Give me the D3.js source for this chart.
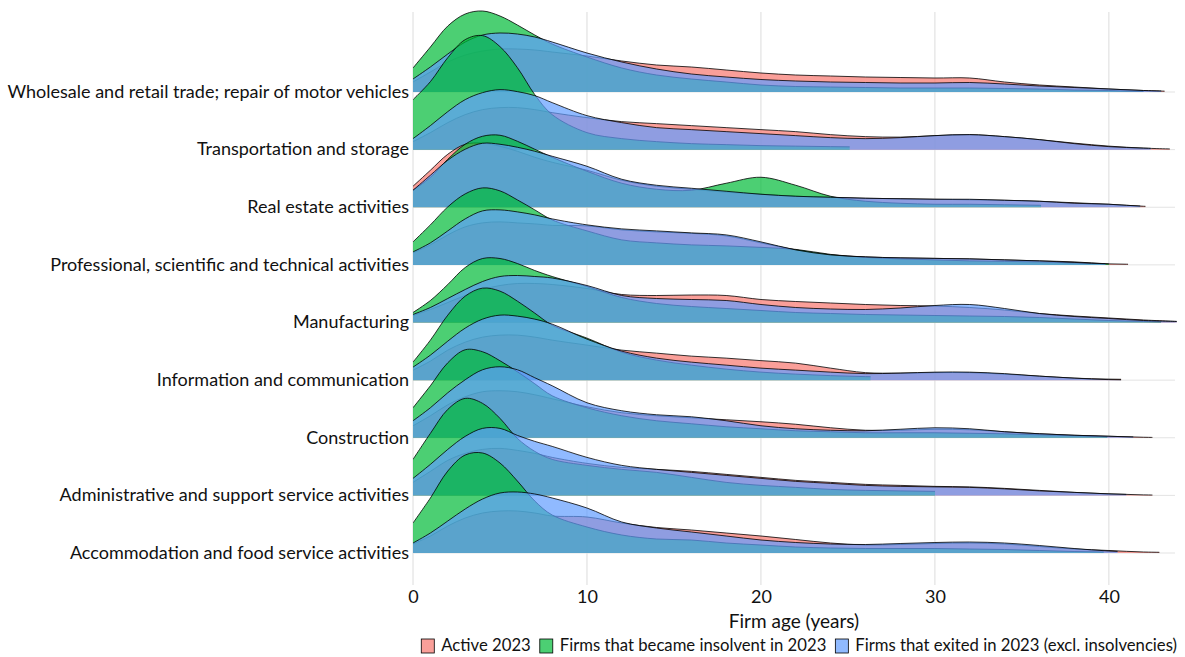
<!DOCTYPE html>
<meta charset="utf-8">
<style>
  body { margin: 0; background: #fff; }
  svg text { font-family: Lato, "Open Sans", sans-serif; fill: #111; }
</style>
<body>
<svg width="1185" height="657"></svg>
<script src="https://d3js.org/d3.v7.min.js"></script>
<script>
// sectors, top row first
var categories = [
  "Wholesale and retail trade; repair of motor vehicles",
  "Transportation and storage",
  "Real estate activities",
  "Professional, scientific and technical activities",
  "Manufacturing",
  "Information and communication",
  "Construction",
  "Administrative and support service activities",
  "Accommodation and food service activities"
];
var seriesNames = ["Active 2023", "Firms that became insolvent in 2023", "Firms that exited in 2023 (excl. insolvencies)"];
var xTicks = [0, 10, 20, 30, 40];

// firm age grid (years) for the density values below
var ages = [0,1,2,3,4,5,6,7,8,10,12,14,16,18,20,22,24,26,28,30,32,34,36,38,40,42,44];

// density (% of firms per year of age), one row per sector
var active = [
  [2,4,6,7.4,8.2,8.6,8.6,8.4,8,7.2,6.2,5.4,5,4.4,3.8,3.4,3.2,3,2.9,2.8,2.8,2,1.4,1,0.6,0.3,0.1],
  [1.6,3.4,5.4,7,8,8.4,8.4,8,7.4,6.4,5.6,5.2,4.8,4.4,4,3.6,3,2.6,2.5,2.8,3,2.6,2,1.3,0.7,0.3,0.1],
  [4.2,7.4,10.6,12.6,12.8,12.2,11.2,10,9,7.4,5.4,4.2,3.6,3,2.6,2.2,2,1.8,1.7,1.6,1.5,1.4,1.2,0.9,0.6,0.2,0.1],
  [2.4,4,6,7.6,8.4,8.6,8.4,8.2,7.9,7.8,7,6.6,6.3,5.8,4.4,3,2,1.6,1.4,1.3,1.2,1,0.8,0.6,0.2,0.1,0],
  [1.4,2.6,4,5.4,6.6,7.4,7.8,7.8,7.6,6.8,5.6,5.4,5.5,5.4,4.6,4.2,3.9,3.6,3.4,3.3,3,2.5,1.8,1.3,0.9,0.5,0.2],
  [2,3.8,6,7.6,8.6,9,9,8.6,8,7,6,5.4,4.8,4.4,3.9,3.4,2.4,1.5,1.4,1.5,1.5,1.2,0.8,0.4,0.2,0.1,0],
  [2.4,4.4,6.6,8.2,9.2,9.4,9.2,8.6,7.8,6.2,5,4.4,4,3.6,3.2,2.7,2,1.5,1.5,1.7,1.6,1.2,0.8,0.5,0.3,0.1,0],
  [2.6,4.8,7,8.4,9.2,9.4,9,8.4,7.6,6.4,5.6,5.2,4.8,4.2,3.6,3,2.6,2.2,2,1.8,1.7,1.4,1,0.6,0.3,0.1,0],
  [1.8,3.4,5.4,7,8,8.4,8.4,8,7.4,7.2,6,5.1,4.6,4,3.4,2.7,2,1.6,1.7,1.9,2,1.8,1.3,0.8,0.5,0.2,0.1]
];
var insolvent = [
  [4.8,9,13.2,15.6,16.2,15.2,13.4,11.4,9.6,7,4.8,3.4,2.6,2,1.4,1.1,1,0.9,0.8,0.8,0.8,0.7,0.6,0.4,0.3,0.1,0],
  [10,13.6,18.4,22,22.8,20.6,16.4,11,7,3.4,2.2,1.6,1.2,1,0.8,0.7,0.6,0.5,0.2,0.2,0.2,0.1,0.1,0.1,0.1,0,0],
  [3.4,6,9.6,12.6,14.2,14.4,13.2,11.6,10,7.2,4.8,3.6,3.4,4.8,6,4.4,2.2,1.2,0.8,0.6,0.6,0.5,0.4,0.3,0.2,0.1,0],
  [4.6,8,11.6,14.2,15.4,14.8,13,11,9,6.8,5,4.4,4,3.8,3.5,3.1,2.1,1.5,1.2,1,0.8,0.7,0.6,0.4,0.2,0.1,0],
  [2,4.4,7.6,11,12.8,12.8,11.8,10.4,9.2,7.2,5,3.8,3.2,2.8,2.4,2,1.8,1.6,1.5,1.4,1.3,1.2,1,0.7,0.4,0.2,0.1],
  [3.6,8,13,16.8,18.4,17.8,15.8,13.4,11,8.4,5.6,4,3,2.2,1.6,1.2,0.9,0.7,0.6,0.5,0.4,0.3,0.2,0.1,0.1,0,0],
  [6,10.4,15,17.6,17.2,15.4,13.2,10.8,8.4,6,4.4,3.4,2.8,2.2,1.8,1.4,1.2,1,1,1,0.9,0.8,0.6,0.4,0.2,0.1,0],
  [7.2,12.4,17.2,19.4,18.4,15.4,11.4,8.8,7.2,6,5.2,4.6,3.6,2.6,2,1.6,1.2,1,0.9,0.8,0.6,0.4,0.2,0.1,0,0,0],
  [6,11,16.4,19.6,20,18,14.4,10.4,7.6,5.2,3.6,2.8,2.6,2,1.6,1.2,1,0.9,0.9,0.9,0.8,0.7,0.5,0.3,0.2,0.1,0]
];
var exited = [
  [2.6,5,7.6,10,11.4,11.8,11.6,11,10,7.8,6,4.6,3.6,3,2.5,2.2,2,1.9,1.8,1.8,1.9,1.6,1.2,0.9,0.6,0.3,0.1],
  [2.2,4.8,7.6,10,11.4,12,11.6,10.8,9.4,6.8,5.4,4.4,4,3.6,3.2,2.8,2.4,2.2,2.4,2.8,3,2.6,2,1.2,0.6,0.3,0.1],
  [3.4,6.4,9.4,11.6,12.8,12.6,12,11.2,10.2,8.2,5.6,4.4,3.8,3.2,2.6,2.2,2,1.8,1.7,1.6,1.6,1.4,1.2,0.8,0.6,0.2,0.1],
  [2.6,4.4,6.8,9.2,10.8,11,10.6,10,9.2,8,7.2,6.8,6.4,6,4.6,3,2,1.6,1.4,1.3,1.2,1,0.8,0.5,0.2,0.1,0],
  [1.6,3,4.8,6.6,8.2,9.2,9.4,9.2,8.9,7.4,5.4,4.8,4.6,4.4,3.6,3,2.7,2.6,2.9,3.4,3.6,2.8,1.8,1.2,0.8,0.4,0.2],
  [2.6,5,7.8,10.4,12.2,13,12.8,12.2,11.2,8.2,5.8,4.4,3.6,3,2.4,2,1.6,1.3,1.4,1.6,1.6,1.3,0.8,0.4,0.1,0,0],
  [3.4,6,9,11.6,13.6,14.2,13.6,12,10.4,7,5.4,4.6,4.2,3.4,2.4,1.8,1.5,1.4,1.7,2,1.8,1.2,0.8,0.5,0.3,0.1,0],
  [3.4,6.2,9.2,11.8,13.4,13.4,12,10.8,9.8,7.6,6,5.2,4.6,4,3.4,2.8,2.4,2,1.8,1.7,1.6,1.3,0.9,0.6,0.3,0.1,0],
  [2,4,6.4,8.8,10.8,12,12.2,11.8,11,9,6.2,5,4.2,3.4,2.6,2.1,1.8,1.7,1.9,2.1,2.2,2,1.5,0.9,0.4,0.1,0]
];
// oldest firm age in each group (density drawn up to here)
var activeEnd    = [43.2, 43.5, 42.1, 41.1, 43.9, 40.7, 42.5, 42.5, 42.9];
var insolventEnd = [42.0, 25.1, 36.1, 40.0, 43.0, 26.3, 39.9, 30.0, 39.7];
var exitedEnd    = [43.0, 42.4, 41.8, 39.8, 43.9, 40.7, 41.4, 41.0, 40.5];

var colors = ["#F8766D", "#00BA38", "#619CFF"];
var seriesData = [active, insolvent, exited];
var seriesEnd = [activeEnd, insolventEnd, exitedEnd];

var svg = d3.select("svg"),
    margin = {top: 12, left: 413},
    width = 762,
    height = 573,
    g = svg.append("g").attr("transform", "translate(" + margin.left + "," + margin.top + ")");

var x = d3.scaleLinear().domain([0, 43.8]).range([0, width]);
var row = d3.scalePoint().domain(categories).range([80, 541]);
var dens = d3.scaleLinear().domain([0, 10]).range([0, 50]);

// grid
g.selectAll(".vgrid").data(xTicks).enter().append("line")
    .attr("x1", function(d) { return x(d); }).attr("x2", function(d) { return x(d); })
    .attr("y1", 0).attr("y2", height)
    .attr("stroke", "#dcdcdc").attr("stroke-width", 1);
g.selectAll(".hgrid").data(categories).enter().append("line")
    .attr("x1", 0).attr("x2", width)
    .attr("y1", function(d) { return row(d); }).attr("y2", function(d) { return row(d); })
    .attr("stroke", "#e3e3e3").attr("stroke-width", 1);

var defs = svg.append("defs");

categories.forEach(function(cat, i) {
  var base = row(cat);
  seriesData.forEach(function(data, s) {
    var pts = ages.map(function(a, k) { return [a, data[i][k]]; });
    var id = "clip-" + i + "-" + s;
    defs.append("clipPath").attr("id", id)
      .append("rect")
        .attr("x", 0).attr("y", -margin.top)
        .attr("width", Math.min(x(seriesEnd[s][i]), width + 2))
        .attr("height", base + margin.top + 0.5);
    var area = d3.area()
        .curve(d3.curveCatmullRom)
        .x(function(d) { return x(d[0]); })
        .y0(base)
        .y1(function(d) { return base - dens(d[1]); });
    var line = d3.line()
        .curve(d3.curveCatmullRom)
        .x(function(d) { return x(d[0]); })
        .y(function(d) { return base - dens(d[1]); });
    var grp = g.append("g").attr("clip-path", "url(#" + id + ")");
    grp.append("path").datum(pts)
        .attr("fill", colors[s]).attr("fill-opacity", 0.7)
        .attr("d", area);
    grp.append("path").datum(pts)
        .attr("fill", "none").attr("stroke", "#000").attr("stroke-width", 0.8)
        .attr("d", line);
  });
});

// category labels
g.selectAll(".ylab").data(categories).enter().append("text")
    .attr("x", -4)
    .attr("y", function(d) { return row(d); })
    .attr("dy", "0.32em")
    .attr("text-anchor", "end")
    .style("font-size", "18px")
    .text(function(d) { return d; });

// x axis
var xAxis = g.append("g")
    .attr("transform", "translate(0," + height + ")")
    .call(d3.axisBottom(x).tickValues(xTicks).tickSize(0).tickPadding(5));
xAxis.select(".domain").remove();
xAxis.selectAll("text").style("font-size", "18px").style("font-family", "Lato, sans-serif").attr("fill", "#111");

g.append("text")
    .attr("x", width / 2).attr("y", height + 43)
    .attr("text-anchor", "middle")
    .style("font-size", "19px")
    .text("Firm age (years)");

// legend, right aligned
var legend = svg.append("g");
var items = legend.selectAll("g").data(seriesNames).enter().append("g");
items.append("rect")
    .attr("width", 13).attr("height", 14).attr("y", -12)
    .attr("fill", function(d, i) { return colors[i]; }).attr("fill-opacity", 0.7)
    .attr("stroke", "#000").attr("stroke-width", 0.8);
items.append("text")
    .attr("x", 20).attr("y", 0)
    .style("font-size", "16.7px")
    .text(function(d) { return d; });
var pos = 0;
items.each(function() {
  var w = this.querySelector("text").getComputedTextLength();
  d3.select(this).attr("transform", "translate(" + pos + ",0)");
  pos += 20 + w + 9;
});
legend.attr("transform", "translate(" + (1177 - (pos - 9)) + ",651)");
</script>
</body>
